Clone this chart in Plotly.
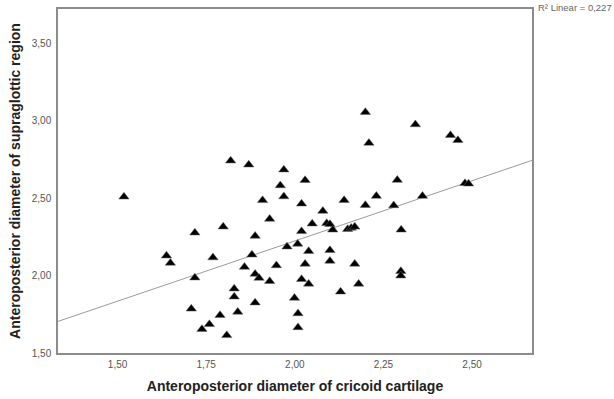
import numpy as np
import plotly.graph_objects as go

# Anteroposterior diameter of cricoid cartilage (x) vs supraglottic region (y)
cricoid = [1.518, 1.819, 1.870, 1.969, 2.029, 1.959, 1.969, 1.909, 2.019, 1.929,
           1.798, 1.718, 1.888, 2.019, 1.978, 2.008, 2.199, 2.340, 2.439, 2.460,
           2.209, 2.289, 2.480, 2.490, 2.139, 2.230, 2.199, 2.279, 2.360, 2.079,
           2.049, 2.090, 2.099, 2.107, 2.149, 2.159, 2.169, 2.300, 1.638, 1.649,
           1.769, 1.879, 1.718, 1.858, 1.888, 1.899, 1.929, 1.948, 2.029, 2.019,
           2.039, 2.099, 2.099, 2.169, 2.039, 2.180, 2.129, 1.829, 1.829, 1.999,
           1.888, 1.708, 1.789, 1.839, 2.009, 1.759, 1.738, 1.808, 2.009, 2.299,
           2.299]
supraglottic = [2.508, 2.741, 2.715, 2.683, 2.615, 2.581, 2.510, 2.485, 2.463, 2.365,
                2.315, 2.276, 2.255, 2.285, 2.186, 2.204, 3.054, 2.975, 2.905, 2.873,
                2.855, 2.616, 2.595, 2.592, 2.486, 2.513, 2.454, 2.452, 2.513, 2.416,
                2.334, 2.337, 2.331, 2.295, 2.299, 2.307, 2.314, 2.295, 2.128, 2.081,
                2.116, 2.134, 1.986, 2.055, 2.010, 1.984, 1.963, 2.065, 2.075, 1.976,
                2.157, 2.163, 2.094, 2.075, 1.946, 1.946, 1.895, 1.915, 1.863, 1.855,
                1.825, 1.785, 1.744, 1.765, 1.755, 1.685, 1.654, 1.614, 1.665, 2.028,
                1.999]

x_ticks = [1.50, 1.75, 2.00, 2.25, 2.50]
y_ticks = [1.50, 2.00, 2.50, 3.00, 3.50]
x_range = [1.332, 2.669]
y_range = [1.5, 3.72]
r2_label = "R² Linear = 0,227"

x = np.array(cricoid)
y = np.array(supraglottic)
slope, intercept = np.polyfit(x, y, 1)
line_x = np.array(x_range)
line_y = intercept + slope * line_x

font_family = "Liberation Sans, Arial, sans-serif"

fig = go.Figure()
fig.add_trace(go.Scatter(
    x=line_x, y=line_y, mode="lines",
    line=dict(color="#9a9a9a", width=1),
    hoverinfo="skip", showlegend=False,
))
fig.add_trace(go.Scatter(
    x=cricoid, y=supraglottic, mode="markers",
    marker=dict(symbol="triangle-up", size=9, color="black",
                line=dict(color="#666666", width=0.5)),
    showlegend=False,
))

axis_common = dict(
    showgrid=False, zeroline=False, showline=True, mirror=True,
    linecolor="#8c8c8c", linewidth=1.5, ticks="", automargin=False,
    tickfont=dict(family=font_family, size=10, color="#555555"),
    tickformat=".2f",
)

fig.update_layout(
    width=614, height=399,
    margin=dict(l=58, r=82, t=9, b=46),
    paper_bgcolor="white", plot_bgcolor="white",
    separators=", ",
    font=dict(family=font_family),
    xaxis=dict(range=x_range, tickvals=x_ticks, ticklabelstandoff=1,
               title=dict(text="<b>Anteroposterior diameter of cricoid cartilage</b>",
                          font=dict(family=font_family, size=14, color="#222222"),
                          standoff=12),
               **axis_common),
    yaxis=dict(range=y_range, tickvals=y_ticks, ticklabelstandoff=3,
               title=dict(text="<b>Anteroposterior diameter of supraglottic region</b>",
                          font=dict(family=font_family, size=14, color="#222222"),
                          standoff=8),
               **axis_common),
    annotations=[dict(
        text=r2_label, xref="paper", yref="paper", x=1, y=1,
        xanchor="left", yanchor="middle", xshift=4, yshift=2, showarrow=False,
        font=dict(family=font_family, size=9.5, color="#666666"),
    )],
)

fig.write_html("out.html")
